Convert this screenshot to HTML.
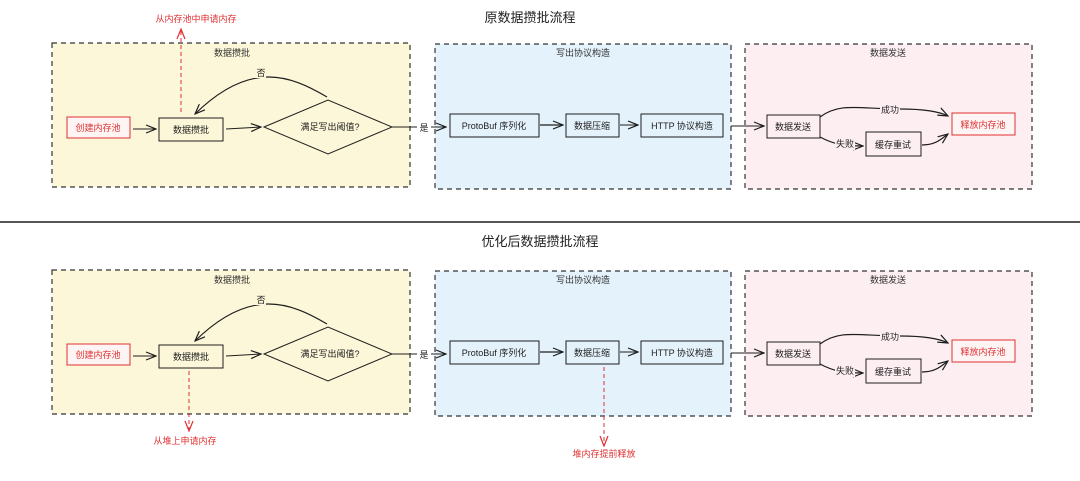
<!DOCTYPE html>
<html><head><meta charset="utf-8"><style>
html,body{margin:0;padding:0;background:#fff;}
svg{display:block;font-family:"Liberation Sans","Noto Sans CJK SC",sans-serif;}
</style></head><body>
<svg width="1080" height="481" viewBox="0 0 1080 481" xmlns="http://www.w3.org/2000/svg">
<defs>
<marker id="a" markerWidth="12" markerHeight="10" refX="11" refY="5" orient="auto" markerUnits="userSpaceOnUse"><path d="M1,1 L11,5 L1,9" fill="none" stroke="#1e1e1e" stroke-width="1.2"/></marker>
<marker id="r" markerWidth="12" markerHeight="10" refX="11" refY="5" orient="auto" markerUnits="userSpaceOnUse"><path d="M1,1 L11,5 L1,9" fill="none" stroke="#e03131" stroke-width="1.2"/></marker>
<g id="flow">
<rect x="52" y="43" width="358" height="144" fill="#fdf7d9" stroke="#333" stroke-width="1.2" stroke-dasharray="5,4"/>
<rect x="435" y="44" width="296" height="145" fill="#e4f2fc" stroke="#333" stroke-width="1.2" stroke-dasharray="5,4"/>
<rect x="745" y="44" width="287" height="145" fill="#fdeef2" stroke="#333" stroke-width="1.2" stroke-dasharray="5,4"/>
<g font-size="9" fill="#333" text-anchor="middle">
<text x="232" y="56">数据攒批</text><text x="583" y="56">写出协议构造</text><text x="888" y="56">数据发送</text>
</g>
<rect x="67" y="117" width="63" height="21" fill="#fff4f4" stroke="#e03131" stroke-width="1"/>
<text x="98" y="131" font-size="9" fill="#e03131" text-anchor="middle">创建内存池</text>
<rect x="159" y="118" width="64" height="23" fill="#fdf7d9" stroke="#1e1e1e" stroke-width="1"/>
<text x="191" y="133" font-size="9" fill="#1e1e1e" text-anchor="middle">数据攒批</text>
<path d="M264,127 L328,100 L392,127 L328,154 Z" fill="#fdf7d9" stroke="#1e1e1e" stroke-width="1"/>
<text x="330" y="130" font-size="9" fill="#1e1e1e" text-anchor="middle">满足写出阈值?</text>
<path d="M133,129 L156,129" stroke="#1e1e1e" stroke-width="1" marker-end="url(#a)"/>
<path d="M226,129 L261,127" stroke="#1e1e1e" stroke-width="1" marker-end="url(#a)"/>
<path d="M327,97 C290,75 250,60 195,114" fill="none" stroke="#1e1e1e" stroke-width="1.2" marker-end="url(#a)"/>
<rect x="254" y="66" width="12" height="12" fill="#fdf7d9"/>
<text x="261" y="76" font-size="9" fill="#1e1e1e" text-anchor="middle">否</text>
<path d="M392,127 L446,127" stroke="#1e1e1e" stroke-width="1" marker-end="url(#a)"/>
<rect x="417" y="121" width="14" height="12" fill="#fff"/>
<text x="424" y="131" font-size="9" fill="#1e1e1e" text-anchor="middle">是</text>
<rect x="450" y="114" width="89" height="23" fill="#e4f2fc" stroke="#1e1e1e" stroke-width="1"/>
<text x="494" y="129" font-size="9" fill="#1e1e1e" text-anchor="middle">ProtoBuf 序列化</text>
<rect x="566" y="114" width="53" height="23" fill="#e4f2fc" stroke="#1e1e1e" stroke-width="1"/>
<text x="592" y="129" font-size="9" fill="#1e1e1e" text-anchor="middle">数据压缩</text>
<rect x="641" y="114" width="82" height="23" fill="#e4f2fc" stroke="#1e1e1e" stroke-width="1"/>
<text x="682" y="129" font-size="9" fill="#1e1e1e" text-anchor="middle">HTTP 协议构造</text>
<path d="M540,125 L563,125" stroke="#1e1e1e" stroke-width="1.2" marker-end="url(#a)"/>
<path d="M620,125 L638,125" stroke="#1e1e1e" stroke-width="1" marker-end="url(#a)"/>
<path d="M731,126 L764,126" stroke="#1e1e1e" stroke-width="1" marker-end="url(#a)"/>
<rect x="767" y="115" width="53" height="23" fill="#fdeef2" stroke="#1e1e1e" stroke-width="1"/>
<text x="793" y="130" font-size="9" fill="#1e1e1e" text-anchor="middle">数据发送</text>
<rect x="952" y="113" width="63" height="22" fill="#fff4f4" stroke="#e03131" stroke-width="1"/>
<text x="983" y="128" font-size="9" fill="#e03131" text-anchor="middle">释放内存池</text>
<rect x="866" y="132" width="55" height="24" fill="#fdeef2" stroke="#1e1e1e" stroke-width="1"/>
<text x="893" y="148" font-size="9" fill="#1e1e1e" text-anchor="middle">缓存重试</text>
<path d="M820,117 C840,102 860,109 900,109 C925,109 940,112 948,116" fill="none" stroke="#1e1e1e" stroke-width="1.2" marker-end="url(#a)"/>
<rect x="880" y="103" width="20" height="12" fill="#fdeef2"/>
<text x="890" y="113" font-size="9" fill="#1e1e1e" text-anchor="middle">成功</text>
<path d="M820,137 C835,145 845,146 863,146" fill="none" stroke="#1e1e1e" stroke-width="1.2" marker-end="url(#a)"/>
<rect x="835" y="138" width="20" height="12" fill="#fdeef2"/>
<text x="845" y="147" font-size="9" fill="#1e1e1e" text-anchor="middle">失败</text>
<path d="M922,145 C935,145 940,140 948,134" fill="none" stroke="#1e1e1e" stroke-width="1.2" marker-end="url(#a)"/>
</g>
</defs>
<text x="530" y="22" font-size="13" fill="#1e1e1e" text-anchor="middle">原数据攒批流程</text>
<use href="#flow"/>
<path d="M181,112 L181,29" stroke="#e03131" stroke-width="1" stroke-dasharray="4,3" marker-end="url(#r)"/>
<text x="196" y="22" font-size="9" fill="#e03131" text-anchor="middle">从内存池中申请内存</text>
<line x1="0" y1="222" x2="1080" y2="222" stroke="#1e1e1e" stroke-width="1.5"/>
<text x="540" y="246" font-size="13" fill="#1e1e1e" text-anchor="middle">优化后数据攒批流程</text>
<use href="#flow" transform="translate(0,227)"/>
<path d="M189,371 L189,431" stroke="#e03131" stroke-width="1" stroke-dasharray="4,3" marker-end="url(#r)"/>
<text x="185" y="444" font-size="9" fill="#e03131" text-anchor="middle">从堆上申请内存</text>
<path d="M604,367 L604,446" stroke="#e03131" stroke-width="1" stroke-dasharray="4,3" marker-end="url(#r)"/>
<text x="604" y="457" font-size="9" fill="#e03131" text-anchor="middle">堆内存提前释放</text>
</svg>
</body></html>
